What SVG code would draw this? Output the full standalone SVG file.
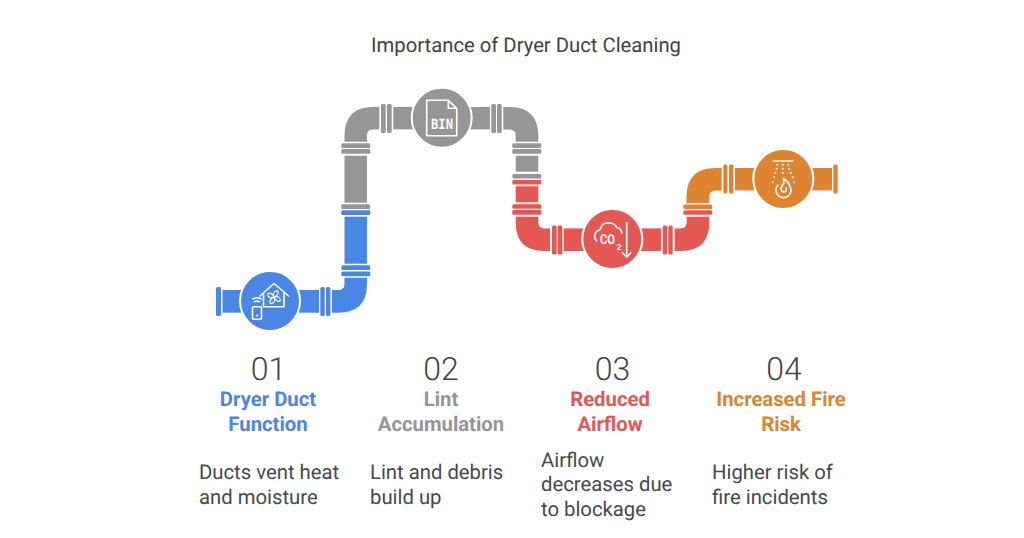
<svg xmlns="http://www.w3.org/2000/svg" width="1024" height="538" viewBox="0 0 1024 538">
<style>
text{font-family:Roboto,"Liberation Sans",sans-serif;text-rendering:geometricPrecision}
.t{font-size:20.250px;fill:#434343}
.n{font-size:32px;font-weight:300;fill:#434343}
.h{font-size:20.300px;font-weight:700}
.b{font-size:20.300px;fill:#434a50}
.i{fill:none;stroke:#fff;stroke-width:1.6;stroke-linecap:round;stroke-linejoin:round}
.ring{stroke:#fff;stroke-width:2}
.blue{fill:#4a86e4}.gray{fill:#969696}.red{fill:#e55753}.orange{fill:#de8431}
.c{text-anchor:middle}
</style>
<rect width="1024" height="538" fill="#fff"/>
<text class="t c" x="526" y="52">Importance of Dryer Duct Cleaning</text>
<g id="connectors">
<g class="blue">
<rect x="216" y="287" width="5" height="29" rx="1.5"/>
<rect x="222.500" y="290" width="20" height="22.700"/>
<rect x="299" y="290" width="20" height="22.700"/>
<rect x="320.300" y="287" width="4.400" height="29" rx="1.5"/>
<rect x="326" y="287" width="4.400" height="29" rx="1.500"/>
<path d="M332 290H338Q344.500 290 344.500 284V277.700H367V284Q367 312.700 338 312.700H332Z"/>
<rect x="341.300" y="265.300" width="29" height="4.800" rx="1.500"/>
<rect x="341.300" y="271.400" width="29" height="4.800" rx="1.500"/>
<rect x="344.500" y="216.700" width="22.500" height="47"/>
<rect x="341.300" y="210.300" width="29" height="4.700" rx="1.500"/>
</g>
<g class="gray">
<rect x="341.300" y="204.300" width="29" height="4.700" rx="1.500"/>
<rect x="344.500" y="155.700" width="22.500" height="47"/>
<rect x="341.300" y="149" width="29" height="4.800" rx="1.500"/>
<rect x="341.300" y="143.300" width="29" height="4.800" rx="1.500"/>
<path d="M344.500 141.700V136Q344.500 107 373 107H379.300V129.400H373Q367 129.400 367 135.500V141.700Z"/>
<rect x="381" y="104" width="4.700" height="29" rx="1.500"/>
<rect x="387" y="104" width="4.700" height="29" rx="1.500"/>
<rect x="393.300" y="107" width="20" height="22.400"/>
<rect x="470" y="107" width="20" height="22.400"/>
<rect x="491.300" y="104" width="4.700" height="29" rx="1.500"/>
<rect x="497" y="104" width="4.700" height="29" rx="1.500"/>
<path d="M503.300 107H509.500Q538.300 107 538.300 136V141.700H515.700V135.500Q515.700 129.400 509.500 129.400H503.300Z"/>
<rect x="512.300" y="143.300" width="29" height="4.800" rx="1.500"/>
<rect x="512.300" y="149" width="29" height="4.800" rx="1.500"/>
<rect x="515.700" y="155.700" width="22.600" height="16"/>
<rect x="512.300" y="174" width="29" height="4.500" rx="1.500"/>
</g>
<g class="red">
<rect x="512.300" y="180" width="29" height="4.500" rx="1.500"/>
<rect x="515.700" y="186.300" width="22.600" height="16"/>
<rect x="512.300" y="204.300" width="29" height="4.500" rx="1.500"/>
<rect x="512.300" y="210" width="29" height="4.700" rx="1.500"/>
<path d="M515.700 216.700V222Q515.700 251 544 251H550V228.400H544Q538.300 228.400 538.300 222V216.700Z"/>
<rect x="552" y="225.500" width="4.700" height="29" rx="1.500"/>
<rect x="557.700" y="225.500" width="4.700" height="29" rx="1.500"/>
<rect x="564" y="228.400" width="20" height="22.600"/>
<rect x="641" y="228.400" width="20" height="22.600"/>
<rect x="662.700" y="225.500" width="4.400" height="29" rx="1.500"/>
<rect x="668.300" y="225.500" width="4.400" height="29" rx="1.500"/>
<path d="M674.700 228.400H680.500Q686.700 228.400 686.700 222V216.700H709.300V222Q709.300 251 680.500 251H674.700Z"/>
<rect x="683.300" y="210.300" width="29" height="4.500" rx="1.500"/>
</g>
<g class="orange">
<rect x="683.300" y="204.600" width="29" height="4.500" rx="1.500"/>
<path d="M686.500 203V197Q686.500 168 715.500 168H721.700V190.400H715.500Q709.200 190.400 709.200 197V203Z"/>
<rect x="723.300" y="164.500" width="4.200" height="29" rx="1.500"/>
<rect x="729" y="164.500" width="4.400" height="29" rx="1.500"/>
<rect x="735" y="168" width="20" height="22.400"/>
<rect x="812" y="168" width="20" height="22.400"/>
<rect x="833.300" y="164.500" width="4.400" height="29" rx="1.500"/>
</g>
</g>
<g id="node1">
<circle class="blue ring" cx="270" cy="301" r="30"/>
<path class="i" d="M260 296 274 283.500 288.500 296M263.500 293V306.700H284V293"/>
<g class="i" stroke-width="1.500" transform="translate(274 297.300) scale(.75) translate(-274 -297)">
<path d="M274 297C272 293 273.500 289 278 288.500C281 289.500 279.500 295 274 297Z"/>
<path d="M274 297C278 295 282 296.500 282.500 301C281.500 304 276 302.500 274 297Z"/>
<path d="M274 297C276 301 274.500 305 270 305.500C267 304.500 268.500 299 274 297Z"/>
<path d="M274 297C270 299 266 297.500 265.500 293C266.500 290 272 291.500 274 297Z"/>
</g>
<rect class="i" x="252.500" y="306.800" width="9" height="12.500" rx="1.200"/>
<path class="i" d="M254.500 301.700Q257 300.200 259.500 301.700M252.800 299Q257 296.600 261.200 299"/>
<circle cx="257" cy="315.500" r="1" fill="#fff"/>
</g>
<g id="node2">
<circle class="gray ring" cx="441.700" cy="117.700" r="30"/>
<path class="i" d="M448.300 100.300H426.700V135.700H456.700V108.300ZM448.300 100.300V108.300H456.700"/>
<text x="442" y="129" text-anchor="middle" font-size="14" font-weight="700" fill="#fff" textLength="22" lengthAdjust="spacingAndGlyphs" style="font-family:'DejaVu Sans Mono',monospace">BIN</text>
</g>
<g id="node3">
<circle class="red ring" cx="612.300" cy="239" r="30"/>
<path class="i" d="M596.700 241C593.500 238.500 593.500 232 600 229.500C601.500 224.500 605 222.700 608.500 222.700C612.500 222.700 616 225 616.700 227.500C620 228 622 230.500 621.700 233.500"/>
<path class="i" d="M626.700 222.700V257M622.300 252.500 626.700 257.300 631 252.500"/>
<text x="600" y="244" font-size="13.500" font-weight="700" fill="#fff" textLength="15" lengthAdjust="spacingAndGlyphs">CO</text>
<text x="616.500" y="250" font-size="8.500" font-weight="700" fill="#fff">2</text>
</g>
<g id="node4">
<circle class="orange ring" cx="783.300" cy="179" r="30"/>
<path class="i" d="M773.300 161H792.700"/>
<g fill="#fff">
<circle cx="777.300" cy="164.700" r="1"/><circle cx="782.700" cy="164.700" r="1"/><circle cx="788.300" cy="164.700" r="1"/>
<circle cx="776.700" cy="168.700" r="1"/><circle cx="782.700" cy="168.700" r="1"/><circle cx="789" cy="168.700" r="1"/>
<circle cx="775.300" cy="172.700" r="1"/><circle cx="782.700" cy="172.700" r="1"/><circle cx="790.700" cy="172.700" r="1"/>
<circle cx="774" cy="177.300" r="1"/><circle cx="792.700" cy="177.300" r="1"/>
<circle cx="772.700" cy="182.300" r="1"/><circle cx="794" cy="182.300" r="1"/>
</g>
<path class="i" d="M778 185A7.500 7.500 0 1 0 789.700 186C788.500 182.500 786 180 783.300 178.500C784.300 181.500 784 184 782 186"/>
<path class="i" d="M782 186C780 189 781.500 192 784 192C786 192 787 190 786 188"/>
</g>
<g id="label1">
<text class="n c" x="268.500" y="380">01</text>
<text class="h c" x="268" y="405.700" fill="#4a86e4">Dryer Duct</text>
<text class="h c" x="268" y="430.500" fill="#4a86e4">Function</text>
<text class="b" x="199" y="479">Ducts vent heat</text>
<text class="b" x="199" y="503.500">and moisture</text>
</g>
<g id="label2">
<text class="n c" x="441" y="380">02</text>
<text class="h c" x="441" y="405.700" fill="#969696">Lint</text>
<text class="h c" x="441" y="430.500" fill="#969696">Accumulation</text>
<text class="b" x="370" y="479">Lint and debris</text>
<text class="b" x="370" y="503.500">build up</text>
</g>
<g id="label3">
<text class="n c" x="612.500" y="380">03</text>
<text class="h c" x="610" y="405.700" fill="#e55753">Reduced</text>
<text class="h c" x="610" y="430.500" fill="#e55753">Airflow</text>
<text class="b" x="541" y="466.500">Airflow</text>
<text class="b" x="541" y="491">decreases due</text>
<text class="b" x="541" y="515.500">to blockage</text>
</g>
<g id="label4">
<text class="n c" x="784" y="380">04</text>
<text class="h c" x="781" y="405.700" fill="#de8431">Increased Fire</text>
<text class="h c" x="781" y="430.500" fill="#de8431">Risk</text>
<text class="b" x="712" y="479">Higher risk of</text>
<text class="b" x="712" y="503.500">fire incidents</text>
</g>
</svg>
